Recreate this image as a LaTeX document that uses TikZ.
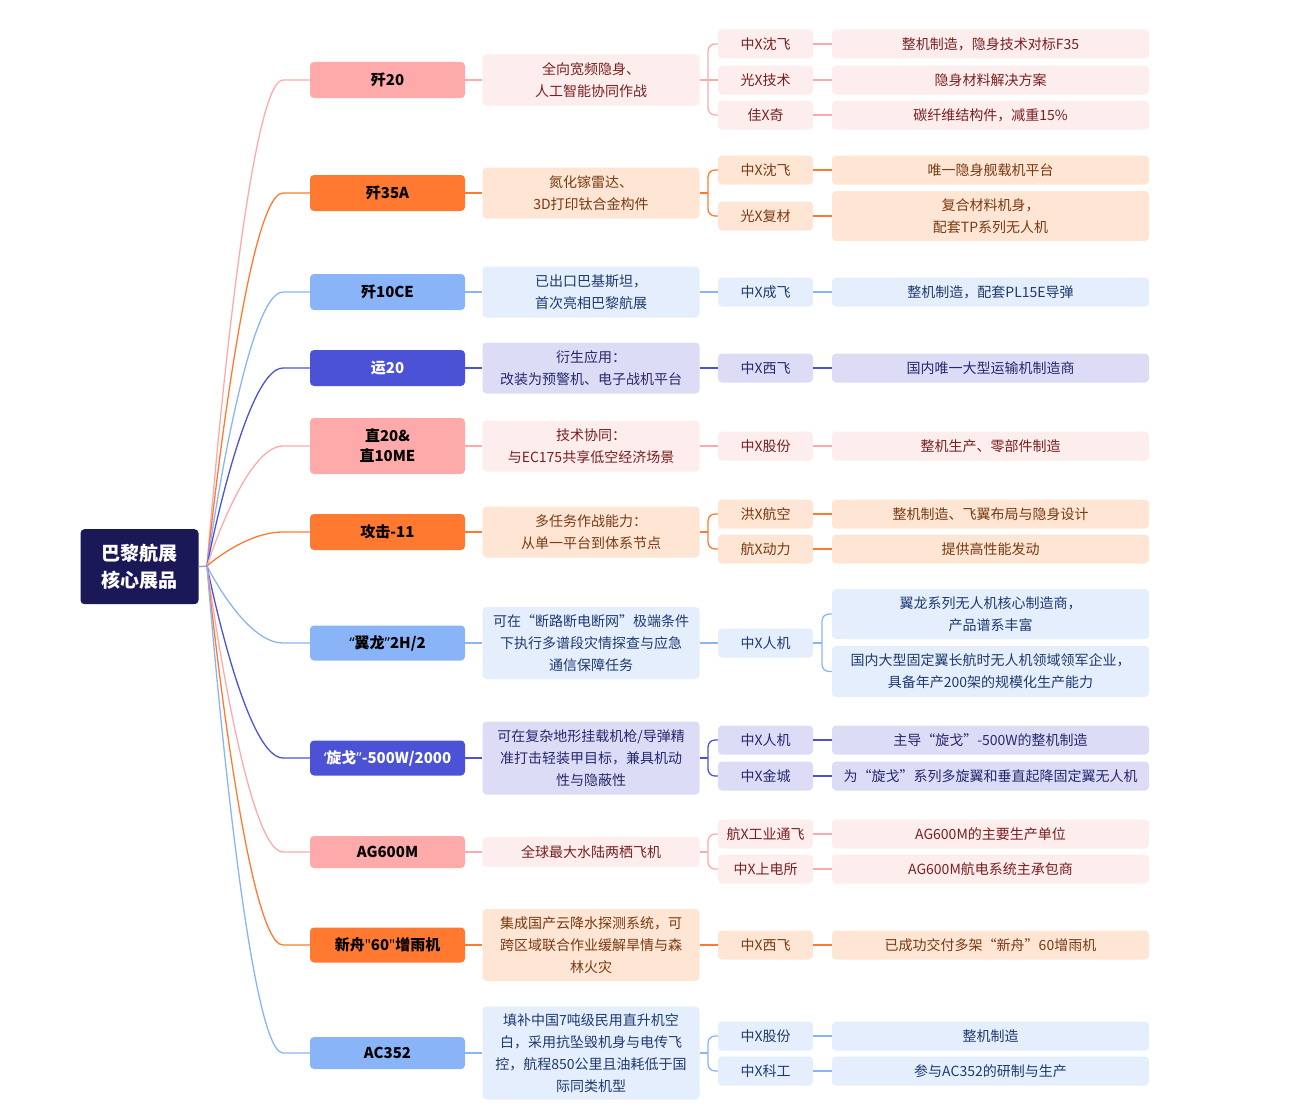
\documentclass[tikz,border=0pt]{standalone}
\usepackage{fontspec}
\setmainfont{Noto Sans CJK SC}
\newfontfamily\qf{Noto Sans}[Ligatures=TeXOff]
\usetikzlibrary{calc}
\definecolor{rootc}{HTML}{1B1858}
\definecolor{rootl}{HTML}{9A96C8}
\definecolor{pkF}{HTML}{FFAAAA}
\definecolor{pkL}{HTML}{FDEDED}
\definecolor{pkT}{HTML}{7A1F1F}
\definecolor{orF}{HTML}{FF7A30}
\definecolor{orL}{HTML}{FEE5D4}
\definecolor{orT}{HTML}{7A3A12}
\definecolor{blF}{HTML}{8AB4F8}
\definecolor{blL}{HTML}{E4EEFD}
\definecolor{blT}{HTML}{1E3A70}
\definecolor{inF}{HTML}{4B52D6}
\definecolor{inL}{HTML}{DCDCF6}
\definecolor{inT}{HTML}{26286E}
\begin{document}
\begin{tikzpicture}[x=1pt,y=-1pt,
  box/.style={rectangle, rounded corners=4pt, inner sep=0pt, align=center},
  rootbox/.style={box, fill=rootc, text=white, minimum width=118pt, minimum height=75pt, font=\bfseries\fontsize{19}{27}\selectfont},
  lone/.style={box, minimum width=155pt, minimum height=36pt, font=\bfseries\fontsize{15}{20}\selectfont, text=black},
  ltwo/.style={box, minimum width=217pt, minimum height=51pt, font=\fontsize{14}{22}\selectfont},
  lthree/.style={box, minimum width=95pt, minimum height=29pt, font=\fontsize{14}{22}\selectfont},
  lfour/.style={box, minimum width=317pt, minimum height=29pt, font=\fontsize{14}{22}\selectfont},
  brP/.style={fill=pkL, text=pkT},
  brO/.style={fill=orL, text=orT},
  brB/.style={fill=blL, text=blT},
  brI/.style={fill=inL, text=inT},
  edg/.style={line width=1.3pt},
  brk/.style={edg, rounded corners=7pt}]
\useasboundingbox (0,0) rectangle (1316,1116);

% root
\node[rootbox] (root) at (139.5,566.7) {巴黎航展\\核心展品};

% level 1
\node[lone, fill=pkF] (a1) at (387.5,80) {歼20};
\node[lone, fill=orF] (a2) at (387.5,193) {歼35A};
\node[lone, fill=blF] (a3) at (387.5,292) {歼10CE};
\node[lone, fill=inF, text=white] (a4) at (387.5,368) {运20};
\node[lone, fill=pkF, minimum height=56pt] (a5) at (387.5,446) {直20\&\\直10ME};
\node[lone, fill=orF] (a6) at (387.5,532) {攻击-11};
\node[lone, fill=blF, minimum height=35pt] (a7) at (387.5,643) {{\qf “}翼龙{\qf ”}2H/2};
\node[lone, fill=inF, text=white, minimum height=35pt] (a8) at (387.5,758) {{\qf ‘}旋戈{\qf ”}-500W/2000};
\node[lone, fill=pkF, minimum height=32pt] (a9) at (387.5,852) {AG600M};
\node[lone, fill=orF, minimum height=35pt] (a10) at (387.5,945) {新舟{\qf "}60{\qf "}增雨机};
\node[lone, fill=blF, minimum height=32pt] (a11) at (387.5,1053) {AC352};

% level 2
\node[ltwo, brP] (b1) at (591,80) {全向宽频隐身、\\人工智能协同作战};
\node[ltwo, brO] (b2) at (591,193) {氮化镓雷达、\\3D打印钛合金构件};
\node[ltwo, brB] (b3) at (591,292) {已出口巴基斯坦，\\首次亮相巴黎航展};
\node[ltwo, brI] (b4) at (591,368) {衍生应用：\\改装为预警机、电子战机平台};
\node[ltwo, brP] (b5) at (591,446) {技术协同：\\与EC175共享低空经济场景};
\node[ltwo, brO] (b6) at (591,532) {多任务作战能力：\\从单一平台到体系节点};
\node[ltwo, brB, minimum height=72pt] (b7) at (591,643) {可在“断路断电断网”极端条件\\下执行多谱段灾情探查与应急\\通信保障任务};
\node[ltwo, brI, minimum height=73pt] (b8) at (591,758) {可在复杂地形挂载机枪/导弹精\\准打击轻装甲目标，兼具机动\\性与隐蔽性};
\node[ltwo, brP, minimum height=30pt] (b9) at (591,852) {全球最大水陆两栖飞机};
\node[ltwo, brO, minimum height=72pt] (b10) at (591,945) {集成国产云降水探测系统，可\\跨区域联合作业缓解旱情与森\\林火灾};
\node[ltwo, brB, minimum height=93pt] (b11) at (591,1053) {填补中国7吨级民用直升机空\\白，采用抗坠毁机身与电传飞\\控，航程850公里且油耗低于国\\际同类机型};

% level 3
\node[lthree, brP] (c11) at (765.5,44) {中X沈飞};
\node[lthree, brP] (c12) at (765.5,80) {光X技术};
\node[lthree, brP] (c13) at (765.5,115) {佳X奇};
\node[lthree, brO] (c21) at (765.5,170) {中X沈飞};
\node[lthree, brO] (c22) at (765.5,216) {光X复材};
\node[lthree, brB] (c31) at (765.5,292) {中X成飞};
\node[lthree, brI] (c41) at (765.5,368) {中X西飞};
\node[lthree, brP] (c51) at (765.5,446) {中X股份};
\node[lthree, brO] (c61) at (765.5,514) {洪X航空};
\node[lthree, brO] (c62) at (765.5,549) {航X动力};
\node[lthree, brB] (c71) at (765.5,643) {中X人机};
\node[lthree, brI] (c81) at (765.5,740) {中X人机};
\node[lthree, brI] (c82) at (765.5,776) {中X金城};
\node[lthree, brP] (c91) at (765.5,834) {航X工业通飞};
\node[lthree, brP] (c92) at (765.5,869) {中X上电所};
\node[lthree, brO] (c101) at (765.5,945) {中X西飞};
\node[lthree, brB] (c111) at (765.5,1036) {中X股份};
\node[lthree, brB] (c112) at (765.5,1071) {中X科工};

% level 4
\node[lfour, brP] (d11) at (990.5,44) {整机制造，隐身技术对标F35};
\node[lfour, brP] (d12) at (990.5,80) {隐身材料解决方案};
\node[lfour, brP] (d13) at (990.5,115) {碳纤维结构件，减重15\%};
\node[lfour, brO] (d21) at (990.5,170) {唯一隐身舰载机平台};
\node[lfour, brO, minimum height=50pt] (d22) at (990.5,216) {复合材料机身，\\配套TP系列无人机};
\node[lfour, brB] (d31) at (990.5,292) {整机制造，配套PL15E导弹};
\node[lfour, brI] (d41) at (990.5,368) {国内唯一大型运输机制造商};
\node[lfour, brP] (d51) at (990.5,446) {整机生产、零部件制造};
\node[lfour, brO] (d61) at (990.5,514) {整机制造、飞翼布局与隐身设计};
\node[lfour, brO] (d62) at (990.5,549) {提供高性能发动};
\node[lfour, brB, minimum height=50pt] (d71) at (990.5,614) {翼龙系列无人机核心制造商，\\产品谱系丰富};
\node[lfour, brB, minimum height=51pt] (d72) at (990.5,671.5) {国内大型固定翼长航时无人机领域领军企业，\\具备年产200架的规模化生产能力};
\node[lfour, brI] (d81) at (990.5,740) {主导“旋戈”-500W的整机制造};
\node[lfour, brI] (d82) at (990.5,776) {为“旋戈”系列多旋翼和垂直起降固定翼无人机};
\node[lfour, brP] (d91) at (990.5,834) {AG600M的主要生产单位};
\node[lfour, brP] (d92) at (990.5,869) {AG600M航电系统主承包商};
\node[lfour, brO] (d101) at (990.5,945) {已成功交付多架“新舟”60增雨机};
\node[lfour, brB] (d111) at (990.5,1036) {整机制造};
\node[lfour, brB] (d112) at (990.5,1071) {参与AC352的研制与生产};

% helper coordinates
\coordinate (rj) at (207,566);
\coordinate (cx) at (245,0);
\coordinate (hx) at (283,0);
\coordinate (bx) at (708,0);
\coordinate (qx) at (822,0);

% root stub
\draw[edg, draw=rootl] (root.east) -- (rj);

% root -> level 1
\foreach \n/\c in {a1/pkF,a2/orF,a3/blF,a4/inF,a5/pkF,a6/orF,a7/blF,a8/inF,a9/pkF,a10/orF,a11/blF}{
  \draw[edg, draw=\c] (rj) .. controls (rj) and (cx |- \n.west) .. (hx |- \n.west) -- (\n.west);
}

% level 1 -> level 2
\foreach \i/\c in {1/pkF,2/orF,3/blF,4/inF,5/pkF,6/orF,7/blF,8/inF,9/pkF,10/orF,11/blF}{
  \draw[edg, draw=\c] (a\i.east) -- (b\i.west);
}

% level 2 -> level 3 (single)
\draw[edg, draw=blF] (b3.east) -- (c31.west);
\draw[edg, draw=inF] (b4.east) -- (c41.west);
\draw[edg, draw=pkF] (b5.east) -- (c51.west);
\draw[edg, draw=blF] (b7.east) -- (c71.west);
\draw[edg, draw=orF] (b10.east) -- (c101.west);

% level 2 -> level 3 (brackets)
\draw[edg, draw=pkF] (b1.east) -- (c12.west);
\draw[brk, draw=pkF] (bx |- b1.east) |- (c11.west);
\draw[brk, draw=pkF] (bx |- b1.east) |- (c13.west);

\draw[edg, draw=orF] (b2.east) -- (bx |- b2.east);
\draw[brk, draw=orF] (bx |- b2.east) |- (c21.west);
\draw[brk, draw=orF] (bx |- b2.east) |- (c22.west);

\draw[edg, draw=orF] (b6.east) -- (bx |- b6.east);
\draw[brk, draw=orF] (bx |- b6.east) |- (c61.west);
\draw[brk, draw=orF] (bx |- b6.east) |- (c62.west);

\draw[edg, draw=inF] (b8.east) -- (bx |- b8.east);
\draw[brk, draw=inF] (bx |- b8.east) |- (c81.west);
\draw[brk, draw=inF] (bx |- b8.east) |- (c82.west);

\draw[edg, draw=pkF] (b9.east) -- (bx |- b9.east);
\draw[brk, draw=pkF] (bx |- b9.east) |- (c91.west);
\draw[brk, draw=pkF] (bx |- b9.east) |- (c92.west);

\draw[edg, draw=blF] (b11.east) -- (bx |- b11.east);
\draw[brk, draw=blF] (bx |- b11.east) |- (c111.west);
\draw[brk, draw=blF] (bx |- b11.east) |- (c112.west);

% level 3 -> level 4
\foreach \s/\t/\c in {c11/d11/pkF,c12/d12/pkF,c13/d13/pkF,c21/d21/orF,c22/d22/orF,c31/d31/blF,c41/d41/inF,c51/d51/pkF,c61/d61/orF,c62/d62/orF,c81/d81/inF,c82/d82/inF,c91/d91/pkF,c92/d92/pkF,c101/d101/orF,c111/d111/blF,c112/d112/blF}{
  \draw[edg, draw=\c] (\s.east) -- (\t.west);
}
\draw[edg, draw=blF] (c71.east) -- (qx |- c71.east);
\draw[brk, draw=blF] (qx |- c71.east) |- (d71.west);
\draw[brk, draw=blF] (qx |- c71.east) |- (d72.west);
\end{tikzpicture}
\end{document}
